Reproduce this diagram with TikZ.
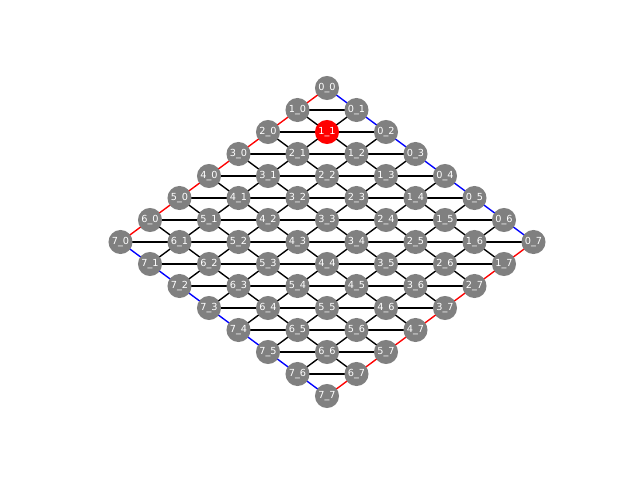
\documentclass[tikz,border=0pt]{standalone}
\usepackage{fontspec}
\setmainfont{DejaVu Sans}
\usetikzlibrary{backgrounds}
\tikzset{
  vert/.style={circle,fill=gray,draw=none,minimum size=17.3pt,inner sep=0pt,text=white,font=\fontsize{7}{8}\selectfont},
  hot/.style={vert,fill=red},
  edge/.style={line width=1pt,black},
  redge/.style={line width=1pt,red},
  bedge/.style={line width=1pt,blue}
}
\begin{document}
\begin{tikzpicture}[x=0.72pt,y=-0.72pt]
\useasboundingbox (0,0) rectangle (640,480);
\foreach \i in {0,...,7}{
  \foreach \j in {0,...,7}{
    \pgfmathsetmacro{\px}{327+29.5*(\j-\i)}
    \pgfmathsetmacro{\py}{88+22*(\i+\j)}
    \ifnum\i=1 \ifnum\j=1
      \node[hot] (n\i-\j) at (\px,\py) {\i\_\j};
    \else
      \node[vert] (n\i-\j) at (\px,\py) {\i\_\j};
    \fi\else
      \node[vert] (n\i-\j) at (\px,\py) {\i\_\j};
    \fi
  }
}
\begin{scope}[on background layer]
\foreach \i in {0,...,7}{
  \foreach \j in {0,...,6}{
    \pgfmathtruncatemacro{\k}{\j+1}
    % edge along j
    \ifnum\i=0
      \draw[bedge] (n\i-\j.center) -- (n\i-\k.center);
    \else\ifnum\i=7
      \draw[bedge] (n\i-\j.center) -- (n\i-\k.center);
    \else
      \draw[edge] (n\i-\j.center) -- (n\i-\k.center);
    \fi\fi
    % edge along i
    \ifnum\i=0
      \draw[redge] (n\j-\i.center) -- (n\k-\i.center);
    \else\ifnum\i=7
      \draw[redge] (n\j-\i.center) -- (n\k-\i.center);
    \else
      \draw[edge] (n\j-\i.center) -- (n\k-\i.center);
    \fi\fi
  }
}
\foreach \i in {0,...,6}{
  \foreach \j in {0,...,6}{
    \pgfmathtruncatemacro{\a}{\i+1}
    \pgfmathtruncatemacro{\b}{\j+1}
    \draw[edge] (n\a-\j.center) -- (n\i-\b.center);
  }
}
\end{scope}
\end{tikzpicture}
\end{document}
